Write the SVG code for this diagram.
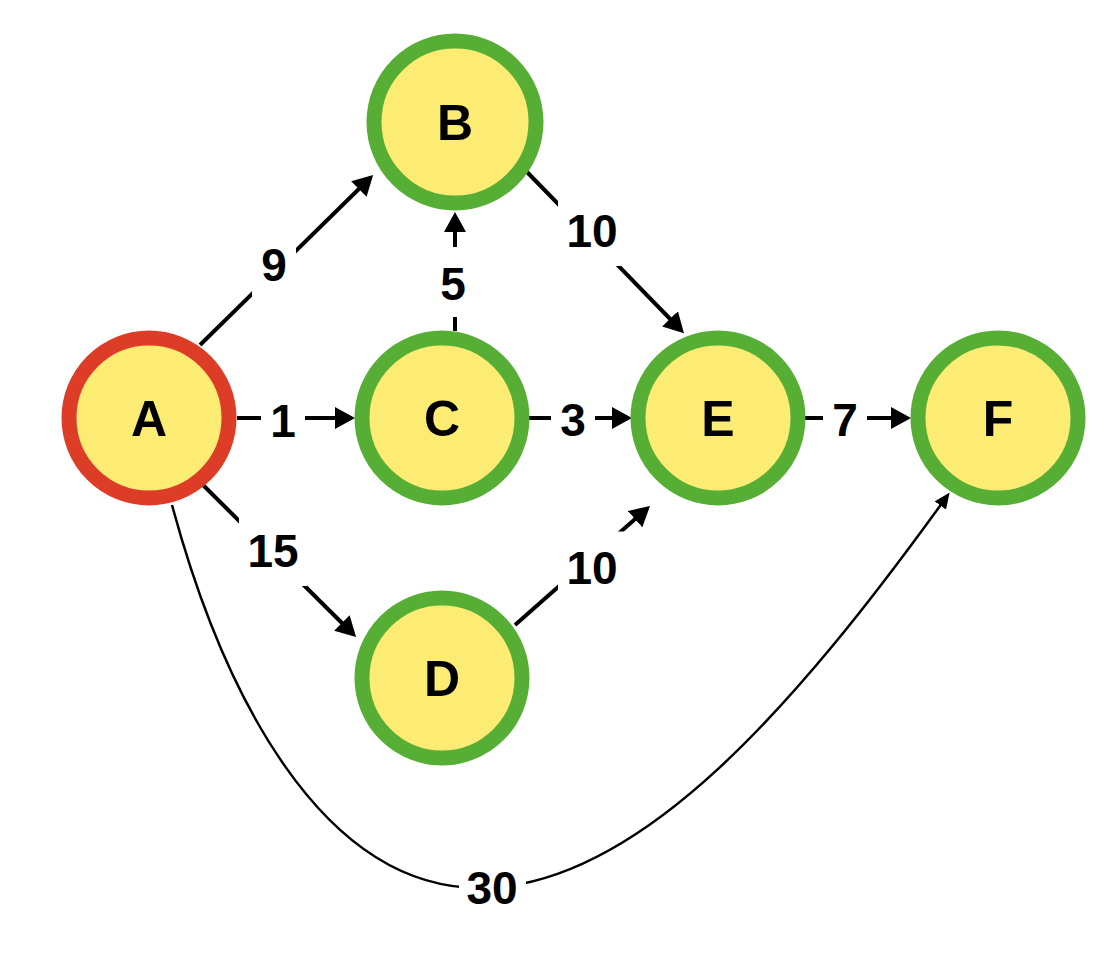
<svg xmlns="http://www.w3.org/2000/svg" width="1110" height="964" viewBox="0 0 1110 964">
<style>
.node circle{fill:#FCEC74;stroke-width:15}
.ok circle{stroke:#57AE34}
.start circle{stroke:#DD3C27}
.node text{font-family:"Liberation Sans",Arial,sans-serif;font-weight:bold;font-size:50px;text-anchor:middle;fill:#000}
.edge{stroke:#000;stroke-width:4;fill:none;marker-end:url(#ah)}
.curve{stroke:#000;stroke-width:2.5;fill:none;marker-end:url(#ahs)}
.lbg{fill:#fff}
.lbl{font-family:"Liberation Sans",Arial,sans-serif;font-weight:bold;font-size:46px;text-anchor:middle;fill:#000}
</style>
<defs>
<marker id="ah" viewBox="0 0 20 22" markerWidth="20" markerHeight="22" markerUnits="userSpaceOnUse" refX="10" refY="11" orient="auto">
<path d="M0,0 L20,11 L0,22 z" fill="#000"/>
</marker>
<marker id="ahs" viewBox="0 0 16 14" markerWidth="16" markerHeight="14" markerUnits="userSpaceOnUse" refX="8" refY="7" orient="auto">
<path d="M0,0 L16,7 L0,14 z" fill="#000"/>
</marker>
</defs>
<rect width="1110" height="964" fill="#fff"/>
<g id="connectors">
<line class="edge" x1="200" y1="345" x2="366" y2="182"/>
<line class="edge" x1="237" y1="418" x2="345" y2="418"/>
<line class="edge" x1="455" y1="331" x2="455" y2="222"/>
<line class="edge" x1="527" y1="172" x2="677" y2="326"/>
<line class="edge" x1="529" y1="418" x2="622" y2="418"/>
<line class="edge" x1="805" y1="418" x2="901" y2="418"/>
<line class="edge" x1="203" y1="485" x2="349" y2="630"/>
<line class="edge" x1="515" y1="625" x2="642.5" y2="512.6"/>
<path class="curve" d="M172,505 C222,690 320,888 480,888 C640,888 800,700 945,499"/>
<g id="edge-labels">
<rect class="lbg" x="252" y="228.5" width="44" height="72"/><text class="lbl" x="274" y="281">9</text>
<rect class="lbg" x="261" y="385" width="44" height="72"/><text class="lbl" x="283" y="437">1</text>
<rect class="lbg" x="431" y="247" width="44" height="70"/><text class="lbl" x="453" y="299.5">5</text>
<rect class="lbg" x="558" y="194" width="68" height="72"/><text class="lbl" x="592" y="246.5">10</text>
<rect class="lbg" x="551" y="383" width="44" height="72"/><text class="lbl" x="573" y="435.5">3</text>
<rect class="lbg" x="823" y="383" width="44" height="72"/><text class="lbl" x="845" y="435.5">7</text>
<rect class="lbg" x="239" y="514" width="68" height="72"/><text class="lbl" x="273" y="566.5">15</text>
<rect class="lbg" x="558" y="531.5" width="68" height="72"/><text class="lbl" x="592" y="584">10</text>
<rect class="lbg" x="459" y="851" width="67" height="72"/><text class="lbl" x="492" y="903.5">30</text>
</g>
</g>
<g id="node-A" class="node start"><circle cx="149" cy="418" r="80"/><text x="149" y="436">A</text></g>
<g id="node-B" class="node ok"><circle cx="455" cy="122" r="81"/><text x="455" y="140">B</text></g>
<g id="node-C" class="node ok"><circle cx="442" cy="418" r="80"/><text x="442" y="436">C</text></g>
<g id="node-D" class="node ok"><circle cx="442" cy="678" r="80"/><text x="442" y="696">D</text></g>
<g id="node-E" class="node ok"><circle cx="718" cy="418" r="80"/><text x="718" y="436">E</text></g>
<g id="node-F" class="node ok"><circle cx="998" cy="418" r="80"/><text x="998" y="436">F</text></g>
</svg>
